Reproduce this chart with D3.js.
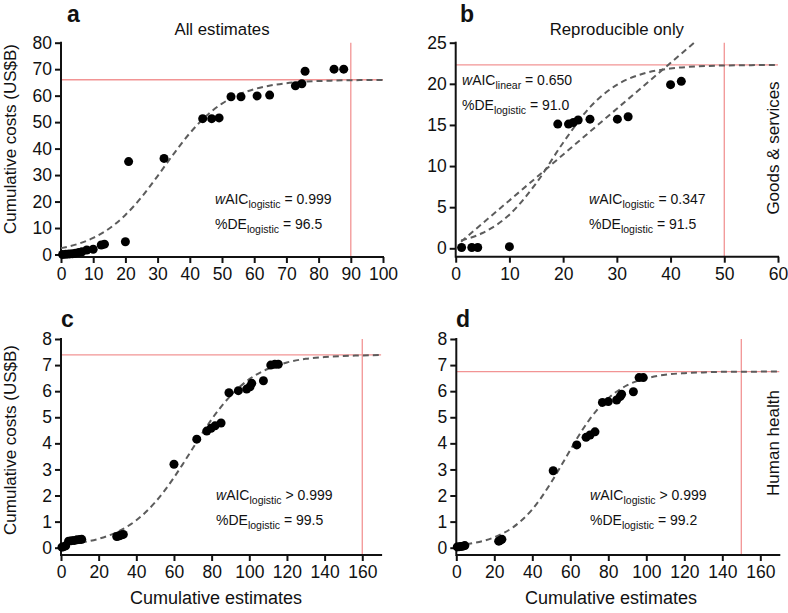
<!DOCTYPE html>
<html><head><meta charset="utf-8">
<script src="https://cdn.jsdelivr.net/npm/d3@7"></script>
<style>body{margin:0;background:#fff} svg text{font-family:"Liberation Sans",Arial,Helvetica,sans-serif;fill:#111}</style>
</head><body><svg id="chart" width="788" height="613"></svg>
<script>
// ---------- data ----------
const aX=[0.5,1.5,2.5,3.5,4.5,5.5,6.5,8,10,12.5,13.5,20,21,32,44,46.8,49.1,52.8,55.9,60.9,64.8,72.8,74.8,75.8,84.8,87.8];
const aY=[0,0.1,0.2,0.3,0.5,0.8,1.0,1.7,2.0,3.6,3.9,4.8,35.1,36.3,51.3,51.3,51.6,59.6,59.6,59.9,60.2,63.7,64.5,69.2,70,70];
const aFitX=[0,5,10,15,20,25,30,35,40,45,50,55,60,65,70,75,80,85,90,95,100];
const aFitY=[2.39,3.90,6.26,9.83,14.93,21.65,29.63,38.03,45.82,52.22,56.99,60.29,62.46,63.83,64.69,65.21,65.52,65.71,65.83,65.90,65.94];

const bX=[1.1,3,4.1,10,19,21,21.9,22.8,25,30.1,32.1,40,42];
const bY=[0.1,0.1,0.1,0.2,15.1,15.1,15.3,15.6,15.7,15.7,16,19.9,20.3];
const bFitX=[1,5,10,15,20,25,30,35,40,45,50,55,60];
const bFitY=[0.95,1.86,4.09,7.93,12.84,17.16,19.88,21.25,21.86,22.12,22.23,22.27,22.29];
const bLinX=[1,44.4];
const bLinY=[0.8,25];

const cX=[0.5,1.5,2.5,4,5.5,7,8.5,10,11,29.6,30.5,31.3,32.2,33.1,60,72.1,77.4,79.7,81.8,85,89.2,94.2,98.6,100.4,101.3,107.5,111.4,113.6,115.4];
const cY=[0.02,0.04,0.07,0.25,0.27,0.28,0.3,0.31,0.32,0.43,0.45,0.47,0.49,0.51,3.2,4.16,4.47,4.58,4.67,4.78,5.94,6.02,6.08,6.17,6.3,6.4,7.0,7.03,7.03];
const cFitX=[0,10,20,30,40,50,60,65,70,75,80,90,100,110,120,130,140,150,160,170];
const cFitY=[0.10,0.19,0.34,0.61,1.05,1.74,2.69,3.24,3.81,4.38,4.92,5.82,6.46,6.86,7.10,7.24,7.31,7.35,7.37,7.39];

const dX=[0.5,1.5,2.5,3.5,4.5,22.3,23,24,51,63.4,68.3,70.4,73,76.9,80,84.4,86.2,87,93.2,96.2,98.4];
const dY=[0.03,0.04,0.05,0.06,0.08,0.25,0.27,0.32,2.95,3.94,4.23,4.32,4.44,5.57,5.6,5.66,5.79,5.88,5.98,6.52,6.52];
const dFitX=[0,10,20,30,40,50,55,60,65,70,80,90,100,110,120,130,140,150,160,170];
const dFitY=[0.09,0.19,0.40,0.79,1.47,2.51,3.12,3.75,4.36,4.90,5.73,6.23,6.49,6.63,6.69,6.72,6.74,6.74,6.75,6.75];

const aXTicks=[0,10,20,30,40,50,60,70,80,90,100], aYTicks=[0,10,20,30,40,50,60,70,80];
const bXTicks=[0,10,20,30,40,50,60], bYTicks=[0,5,10,15,20,25];
const cXTicks=[0,20,40,60,80,100,120,140,160], cYTicks=[0,1,2,3,4,5,6,7,8];
const dXTicks=[0,20,40,60,80,100,120,140,160], dYTicks=[0,1,2,3,4,5,6,7,8];

const asymptotes=[66,22.3,7.39,6.75];
const limits=[90,50,160,150];
const letters=["a","b","c","d"];
const titles=["All estimates","Reproducible only","",""];
const rowLabels=["Goods & services","Human health"];
const yTitle="Cumulative costs (US$B)", xTitle="Cumulative estimates";
// annotations: [italic prefix, main, subscript, rest]
const annA=[["w","AIC","logistic"," = 0.999"],["","%DE","logistic"," = 96.5"]];
const annBtop=[["w","AIC","linear"," = 0.650"],["","%DE","logistic"," = 91.0"]];
const annBbot=[["w","AIC","logistic"," = 0.347"],["","%DE","logistic"," = 91.5"]];
const annC=[["w","AIC","logistic"," > 0.999"],["","%DE","logistic"," = 99.5"]];
const annD=[["w","AIC","logistic"," > 0.999"],["","%DE","logistic"," = 99.2"]];

// ---------- layout ----------
const svg=d3.select("#chart");
const panels=[
 {pts:[aX,aY],fits:[[aFitX,aFitY]],xd:[0,100],yd:[0,80],xr:[61,383],yr:[254.5,42.7],axY:257,xt:aXTicks,yt:aYTicks,ann:[[annA,215,204]]},
 {pts:[bX,bY],fits:[[bFitX,bFitY],[bLinX,bLinY]],xd:[0,60],yd:[0,25],xr:[455.7,778],yr:[248.3,42.7],axY:256.7,xt:bXTicks,yt:bYTicks,ann:[[annBtop,462,85],[annBbot,589,204]]},
 {pts:[cX,cY],fits:[[cFitX,cFitY]],xd:[0,170],yd:[0,8],xr:[61,381.1],yr:[547.7,339],axY:555,xt:cXTicks,yt:cYTicks,ann:[[annC,216,500]]},
 {pts:[dX,dY],fits:[[dFitX,dFitY]],xd:[0,170],yd:[0,8],xr:[456.3,779.3],yr:[547.7,339],axY:555,xt:dXTicks,yt:dYTicks,ann:[[annD,590,500]]}
];
const letterPos=[[67,22],[460,22],[61,327],[456,327]];

panels.forEach((p,i)=>{
  const x=d3.scaleLinear().domain(p.xd).range(p.xr);
  const y=d3.scaleLinear().domain(p.yd).range(p.yr);
  const g=svg.append("g");
  const x0=x(p.xd[0]), x1=x(p.xd[1]), yTop=y(p.yd[1]);
  // red reference lines
  g.append("line").attr("x1",x0).attr("x2",x1).attr("y1",y(asymptotes[i])).attr("y2",y(asymptotes[i]))
    .attr("stroke","#f29494").attr("stroke-width",1.3);
  g.append("line").attr("x1",x(limits[i])).attr("x2",x(limits[i])).attr("y1",yTop).attr("y2",p.axY)
    .attr("stroke","#f29494").attr("stroke-width",1.3);
  // axes
  const ya=g.append("g").attr("transform",`translate(${x0},0)`)
    .call(d3.axisLeft(y).tickValues(p.yt).tickSize(6).tickPadding(3).tickFormat(d3.format("d")));
  const xa=g.append("g").attr("transform",`translate(0,${p.axY})`)
    .call(d3.axisBottom(x).tickValues(p.xt).tickSize(6).tickPadding(5).tickFormat(d3.format("d")));
  [ya,xa].forEach(a=>{a.select(".domain").remove();
    a.selectAll(".tick line").attr("stroke","#111").attr("stroke-width",2);
    a.selectAll(".tick text").attr("font-size",17.5).attr("fill","#111")
      .style("font-family",'"Liberation Sans",Arial,sans-serif');});
  g.append("line").attr("x1",x0).attr("x2",x0).attr("y1",yTop-1).attr("y2",p.axY+1).attr("stroke","#111").attr("stroke-width",2);
  g.append("line").attr("x1",x0).attr("x2",x1+1).attr("y1",p.axY).attr("y2",p.axY).attr("stroke","#111").attr("stroke-width",2);
  // fitted curves
  const line=d3.line().x(d=>x(d[0])).y(d=>y(d[1])).curve(d3.curveMonotoneX);
  p.fits.forEach(f=>{
    const data=f[0].map((v,k)=>[v,f[1][k]]);
    g.append("path").attr("d",line(data)).attr("fill","none").attr("stroke","#5c5c5c")
      .attr("stroke-width",2).attr("stroke-dasharray","6,4");
  });
  // points
  g.selectAll("circle.pt").data(p.pts[0].map((v,k)=>[v,p.pts[1][k]])).enter().append("circle")
    .attr("cx",d=>x(d[0])).attr("cy",d=>y(d[1])).attr("r",4.5).attr("fill","#000");
  // annotations
  p.ann.forEach(([lines,ax,ay])=>{
    lines.forEach((l,k)=>{
      const t=g.append("text").attr("x",ax).attr("y",ay+k*25).attr("font-size",14);
      if(l[0]) t.append("tspan").attr("font-style","italic").text(l[0]);
      t.append("tspan").text(l[1]);
      t.append("tspan").attr("font-size",10.5).attr("dy",4).text(l[2]);
      t.append("tspan").attr("dy",-4).text(l[3]);
    });
  });
  // letters & titles
  svg.append("text").attr("x",letterPos[i][0]).attr("y",letterPos[i][1]).attr("font-size",23).attr("font-weight","bold").text(letters[i]);
  if(titles[i]) svg.append("text").attr("x",(x0+x1)/2).attr("y",35).attr("text-anchor","middle").attr("font-size",16.8).text(titles[i]);
});
// axis titles
[[11,139],[11,440]].forEach(([cx,cy])=>{
  svg.append("text").attr("transform",`translate(${cx+5},${cy}) rotate(-90)`).attr("text-anchor","middle").attr("font-size",17).text(yTitle);
});
[[216,604],[611,604]].forEach(([cx,cy])=>{
  svg.append("text").attr("x",cx).attr("y",cy).attr("text-anchor","middle").attr("font-size",18).text(xTitle);
});
[[148,rowLabels[0]],[443,rowLabels[1]]].forEach(([cy,t])=>{
  svg.append("text").attr("transform",`translate(779,${cy}) rotate(-90)`).attr("text-anchor","middle").attr("font-size",17).text(t);
});
</script></body></html>
